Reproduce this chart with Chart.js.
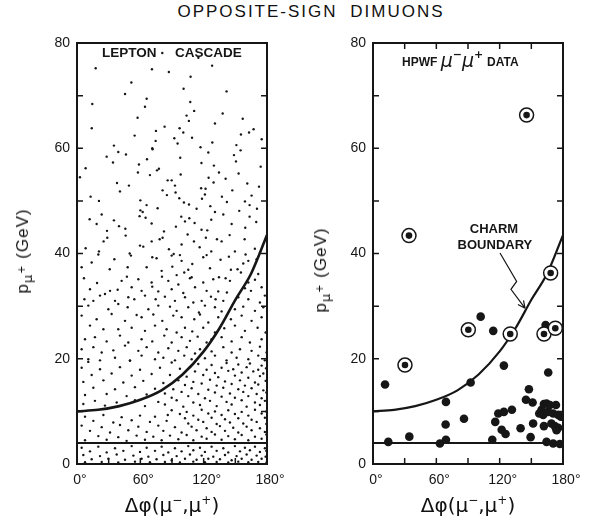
<!DOCTYPE html>
<html>
<head>
<meta charset="utf-8">
<script src="https://cdn.jsdelivr.net/npm/chart.js@4.4.0/dist/chart.umd.min.js"></script>
<style>
  body { margin: 0; background: #fff; }
  #wrap { position: relative; width: 589px; height: 520px; overflow: hidden; color: #111;
          font-family: 'Liberation Sans', Arial, sans-serif; }
  canvas { position: absolute; top: 0; }
  #left { left: 0; }
  #right { left: 296px; }
  .title { position: absolute; top: 2px; left: 311px; transform: translateX(-50%); white-space: nowrap;
           font-size: 17px; letter-spacing: 2px; word-spacing: 6px; }
  .ytitle { position: absolute; transform: translate(-50%, -50%) rotate(-90deg); white-space: nowrap;
            font-size: 17px; letter-spacing: 1px; }
  .ytitle sub { font-size: 13px; vertical-align: -4px; font-family: 'DejaVu Sans', sans-serif; }
  .ytitle sub sup { font-size: 10px; vertical-align: 7px; }
  .xtitle { position: absolute; top: 505px; transform: translate(-50%, -50%); white-space: nowrap;
            font-family: 'DejaVu Sans', sans-serif; font-size: 20px; }
  .xtitle sup { font-size: 12px; vertical-align: 8px; }
</style>
</head>
<body>
<div id="wrap">
  <div class="title">OPPOSITE-SIGN DIMUONS</div>
  <canvas id="left" width="294" height="520"></canvas>
  <canvas id="right" width="293" height="520"></canvas>
  <div class="ytitle" style="left:24px; top:251px;">p<sub>μ<sup>+</sup></sub> (GeV)</div>
  <div class="ytitle" style="left:322px; top:270px;">p<sub>μ<sup>+</sup></sub> (GeV)</div>
  <div class="xtitle" style="left:172px;">Δφ(μ<sup>−</sup>,μ<sup>+</sup>)</div>
  <div class="xtitle" style="left:468px;">Δφ(μ<sup>−</sup>,μ<sup>+</sup>)</div>
</div>
<script>
// tick labels
const phiLabels = [0, 60, 120, 180];
const pLabels = [0, 20, 40, 60, 80];

// charm boundary curve [dphi deg, p GeV]
const charmBoundary = [[0, 10], [20, 10.3], [40, 11], [60, 12.2], [80, 14], [100, 17],
  [120, 21.4], [135, 25.8], [150, 31.2], [165, 36.2], [180, 43.5]];
// low momentum cut
const pCut = [[0, 4], [180, 4]];

// lepton cascade Monte Carlo, p > 40
const cascadeHigh = [[80.8,78.1],[115,77.2],[128,75.7],[17.7,75.2],[71,75],[87,74.5],[107.6,73.6],[51.5,72.5],
  [101,71.3],[45.5,70.3],[141.7,70.8],[14.5,68.4],[66,69.4],[107.3,68.8],[64.4,67.9],[111,67.1],[138,66.6],
  [103.8,66.2],[57.4,65.8],[106,65.2],[157,65.6],[130.7,64.7],[14,63.8],[83,64.1],[74.8,63.3],[97.2,63.8],
  [167.3,63.6],[100.7,63],[163,63],[54.6,62.4],[92.2,61.9],[109,62],[155.3,62.6],[175,61.7],[74.5,61.4],
  [95.3,60.9],[128.2,61.1],[35,60.5],[71.3,60],[117,60.2],[151,60.6],
  [39.1,59.3],[46.4,58.8],[71.6,59.8],[124.4,59.2],[148.7,58.7],[155,59.6],[28.1,58.4],[66.3,57.9],[97.8,58.2],
  [34.1,57.3],[150.6,57.5],[58.7,56.9],[117.9,57.2],[8.2,56.2],[77.6,56.1],[75.8,55.8],[129.7,56.7],[174,56.5],
  [57.7,55.4],[98.2,55],[69.1,54.9],[134.5,55.4],[153.1,55.2],[2.8,54.5],[124.7,54.4],[140.8,54.2],[85.9,53.9],
  [89.7,53.9],[129.4,53.5],[37.9,53.4],[49.2,52.9],[92.8,52.9],[161.3,53.3],[117.6,52.4],[121.8,52.3],[172.4,52.7],
  [40.7,51.8],[81.1,52],[93.4,51.6],[147.1,52],[121.2,51.2],[85.2,51.1],[12.9,50.8],[137.3,50.8],[165.4,51],
  [96.9,50.5],[118.4,50.4],[20.8,50],[60,50.1],[142,49.8],[159.1,49.9],[101.3,49.7],[106.1,49.3],[65.9,49.2],
  [163.5,49.2],[126.3,49],[76.4,48.6],[113.3,48.5],[170.5,48.5],[60,48.2],[62.2,47.9],[130.7,47.9],[153.7,48.1],
  [23.4,47.4],[59.3,47.1],[138.6,47.4],[98.8,47],[65,46.8],[106.4,46.7],[163.5,47],[12,46.5],[127.2,46.4],
  [102.3,46.1],[35,46.3],[111.4,45.8],[146.5,45.6],[169.8,46],[18.6,45.6],[70.7,45.7],[39.8,45.2],[93.7,45.1],
  [45.8,44.7],[118,44.5],[123.4,44.4],[159.4,44.9],[28.4,44.3],[82.4,44.2],[104.8,43.6],[46.1,43.4],[144.6,43.5],
  [81.1,43],[28.7,43],[122.1,43],[78.3,42.7],[132.6,42.7],[158.8,42.7],[25.2,42.3],[70.7,42.3],[110.8,42.3],
  [137,42.3],[99.1,41.7],[59.7,41.5],[62.8,41.3],[116.2,41.2],[8.2,41],[87.1,40.8],[127.2,40.4],[20.8,40.4],
  [149.6,40.4],[49.9,40],[91.6,39.9],[168.5,40.9],[20.2,39.8],[97.5,39.7],[122.8,39.7],[159.7,39.8]];

// 20 < p < 40
const cascadeMid = [[13.9,38.3],[35.4,38.9],[51.1,39.6],[71.3,39.3],[75.4,39.1],[89.7,39.6],[99.1,38.6],[109.2,38],
  [119.6,39.3],[136,38.8],[143.9,39.4],[157.5,38.1],[162.3,38.6],[170.2,38.9],
  [4.4,37.4],[31,37],[48,37.4],[66,37.4],[80.2,36.7],[90.3,37.5],[101.6,36.4],[105.4,36.9],[108.6,35.5],[126,37.2],
  [145.8,36.9],[152.1,37],[155.3,36.4],[171.7,36.1],
  [6.6,35.3],[19,34.4],[42.3,34.8],[47.3,35.6],[58.1,35.1],[70.7,34.5],[80.5,35.6],[86.5,34.8],[94.4,35.9],[107,35.3],
  [119.6,34.5],[129.1,35.1],[134.5,35.5],[140.8,35.3],[144.9,34.8],[162.3,34.5],[168.6,35],
  [12.3,33.2],[26.5,32.3],[31.3,32.9],[38.5,33.1],[51.8,33.6],[61.2,32.9],[71.3,33.7],[77,32.8],[89.7,33.2],[96,34.1],
  [100.7,32.5],[111.8,33.6],[122.8,32.9],[133.8,32.8],[142,32.6],[159.1,33.4],[164.8,32.9],[174.9,33.6],
  [7,31.3],[15.5,31],[21.8,32],[36,31],[48.6,31.7],[54.3,31.3],[64.4,32],[74.5,31.3],[83.3,31.8],[92.8,31],[102.3,31.7],
  [110.2,30.7],[118.1,31],[126.9,31.8],[131.3,31.3],[138.6,31],[152.8,31.7],[162.3,31.3],[173.3,30.7],[178,32],
  [10.7,30.1],[29.7,29.4],[39.1,30.4],[48,29.8],[56.5,28.3],[67.6,29.4],[77,30.1],[88.1,29.9],[94.4,29.1],[105.4,29.8],
  [115.5,28.8],[121.2,30.1],[130.7,29.8],[137,29],[149.6,29.4],[157.5,29.9],[168.6,29.1],[176.5,29.8],
  [4.4,28.2],[18.6,27.5],[32.8,28.5],[45.5,27.2],[61.2,27.9],[72.3,28.4],[80.8,27.2],[91.2,28.2],[99.1,27.9],[111.1,27.5],
  [116.5,28.4],[124.4,26.9],[133.8,27.9],[145.8,27.5],[156,28.2],[165.4,27.2],[174.9,27.9],
  [12.3,26.3],[25,25.6],[39.1,25.6],[51.8,25.9],[64.4,25.3],[73.9,26.3],[84.9,25.6],[94.4,25],[102.3,25.9],[109.2,25.2],
  [119.6,25.9],[130.7,25],[139.5,25.8],[149.6,26.3],[159.1,25.3],[171.1,25.9],[178.7,25],
  [7.6,23.7],[17,24.1],[28.1,23.3],[40.7,24.4],[48.6,23.1],[61.2,23.7],[71.3,23.3],[82.7,24.4],[89.7,23.1],[99.1,24.1],
  [107,23.4],[114.3,24.2],[122.8,23.1],[127.5,23.7],[137,24.1],[146.5,23.3],[156,24.1],[163.8,23.1],[174.9,23.7],
  [4.4,21.8],[15.5,22.2],[23.4,21.2],[34.4,21.6],[45.5,22.5],[58.1,21.5],[66,22.2],[77,21.2],[86.5,22],[96,21.5],
  [103.9,22.2],[111.8,21],[116.5,21.8],[127.5,21.4],[138.6,22.2],[146.5,21.2],[154.4,21.8],[165.4,21.5],[173.3,22.3],[179.6,21.2],
  [10.7,19.9],[21.8,19.7],[36,20.2],[50.2,19.7],[61.2,20.6],[73.9,19.9],[81.8,20.2],[92.8,19.7],[101.6,20.6],[108.6,19.9],
  [121.2,20.1],[130.7,20.6],[141.7,19.7],[151.2,20.2],[162.3,19.9],[171.7,20.6],[178,19.7]];

// p < 20
const cascadeLow = [[10.7,19.4],[50.2,19.6],[89.7,19.3],[114.9,19.0],[127.5,18.8],[141.7,19.2],[152.8,18.9],[163.8,19.1],[174.9,18.7],
  [4.4,18.3],[21.8,18.0],[40.7,18.4],[59.7,17.9],[78.6,18.3],[97.5,18.1],[107,18.4],[122.8,17.9],[137,18.3],[148,18.0],
  [160.7,18.4],[171.7,17.9],[179.2,18.2],
  [111.8,17.6],[130.7,17.3],[143.3,17.7],[156,17.4],[167,17.6],[176.5,17.2],
  [13.9,16.9],[32.8,17.2],[51.8,16.8],[70.7,17.1],[88.1,16.9],
  [103.9,16.6],[119.6,16.9],[133.8,16.5],[149.6,16.8],[162.3,16.4],[173.3,16.7],
  [96,15.9],[110.2,15.6],[126,16.0],[140.2,15.7],[154.4,15.9],[168.6,15.5],[178.7,15.8],
  [6,15.6],[25,15.9],[43.9,15.5],[62.8,15.8],[81.8,15.4],
  [102.3,15.0],[118.1,15.3],[132.3,14.9],[146.5,15.2],[159.1,14.9],[171.7,15.1],
  [15.5,14.5],[36,14.2],[54.9,14.6],[73.9,14.3],
  [91.2,14.2],[108.6,14.4],[124.4,14.1],[138.6,14.5],[152.8,14.2],[165.4,14.4],[176.5,14.0],
  [83.3,13.4],[99.1,13.7],[114.9,13.3],[130.7,13.6],[144.9,13.4],[157.5,13.7],[170.2,13.3],[179.4,13.6],
  [7.6,13.1],[28.1,13.3],[47,12.9],[66,13.2],
  [89.7,12.6],[105.4,12.9],[121.2,12.5],[137,12.8],[149.6,12.6],[162.3,12.9],[174.9,12.5],
  [77,11.8],[94.4,12.1],[110.2,11.7],[126,12.0],[141.7,11.8],[156,12.1],[168.6,11.7],[178,12.0],
  [17,12.0],[37.6,11.7],[54.9,12.1],
  [64.4,11.0],[83.3,11.3],[100.7,10.9],[116.5,11.2],[132.3,11.0],[146.5,11.3],[160.7,10.9],[173.3,11.2],
  [6,11.4],[26.5,11.1],
  [89.7,10.2],[103.9,9.9],[118.1,10.3],[130.7,10.0],[143.3,10.2],[156,9.9],[168.6,10.3],[179.4,10.0],
  [97.5,9.5],[110.2,9.2],[124.4,9.6],[137,9.3],[149.6,9.5],[162.3,9.2],[174.9,9.6],
  [7.6,9.0],[25,9.3],[42.3,8.9],[59.7,9.2],[73.9,9.0],[86,9.3],
  [102.3,8.7],[114.9,8.4],[127.5,8.8],[140.2,8.5],[152.8,8.7],[165.4,8.4],[178,8.8],
  [15.5,8.2],[34.4,7.9],[51.8,8.3],[69.1,8.0],[84.9,8.2],
  [105.4,7.7],[119.6,8.0],[132.3,7.6],[144.9,7.9],[157.5,7.7],[170.2,8.0],[179.4,7.6],
  [4.4,7.3],[23.4,7.0],[40.7,7.4],[58.1,7.1],[77,7.3],[92.8,7.0],
  [108.6,7.1],[122.8,6.8],[135.4,7.2],[148,6.9],[160.7,7.1],[173.3,6.8],
  [12.3,6.3],[31.3,6.0],[48.6,6.4],[66,6.1],[81.8,6.3],[99.1,6.0],[113.3,6.4],[127.5,6.1],[140.2,6.3],[152.8,6.0],[165.4,6.4],[178,6.1],
  [103.9,5.5],[118.1,5.2],[130.7,5.6],[143.3,5.3],[156,5.5],[168.6,5.2],[179.4,5.6],
  [20.2,5.3],[39.1,5.1],[56.5,5.4],[72.3,5.2],[88.1,5.4],
  [96,4.7],[110.2,4.5],[122.8,4.8],[137,4.6],[149.6,4.7],[162.3,4.5],[174.9,4.8],
  [7.6,4.5],[28.1,4.6],[47,4.4],[64.4,4.6],[80.2,4.5],
  [4.4,3.1],[20.2,3.3],[36,3.0],[51.8,3.4],[66,3.1],[80.2,3.3],[92.8,3.0],[105.4,3.4],[116.5,3.1],[127.5,3.3],[138.6,3.0],
  [149.6,3.4],[159.1,3.1],[168.6,3.3],[178,3.0],
  [12.3,2.4],[28.1,2.2],[43.9,2.5],[59.7,2.3],[73.9,2.5],[86.5,2.2],[99.1,2.4],[110.2,2.6],[121.2,2.3],[132.3,2.5],[143.3,2.2],
  [154.4,2.4],[163.8,2.6],[173.3,2.3],[179.3,2.5],
  [6,1.7],[21.8,1.5],[37.6,1.8],[53.4,1.6],[67.6,1.4],[81.8,1.7],[94.4,1.5],[107,1.8],[118.1,1.6],[129.1,1.4],[140.2,1.7],
  [151.2,1.5],[160.7,1.8],[170.2,1.6],[178.7,1.4],
  [13.9,0.9],[29.7,1.0],[45.5,0.8],[61.2,1.0],[75.4,0.9],[89.7,0.7],[102.3,1.0],[113.3,0.8],[124.4,1.0],[135.4,0.9],
  [146.5,0.7],[156,1.0],[165.4,0.8],[174.9,1.0],
  [7.6,0.35],[23.4,0.4],[39.1,0.3],[54.9,0.45],[69.1,0.35],[83.3,0.4],[97.5,0.3],[110.2,0.45],[121.2,0.35],[132.3,0.4],
  [143.3,0.3],[152.8,0.45],[162.3,0.35],[171.7,0.4],[179.6,0.3]];

// HPWF events
const dimuonEvents = [[11.4,15.1],[14.5,4.2],[34.4,5.2],[69.1,11.8],[68.8,7.5],[63.4,3.9],[69.1,4.6],[86.2,8.6],
  [92.5,15.5],[102,28],[113.9,25.3],[113,4.6],[115.8,8],[118.7,9.6],[124,9.9],[124,18.7],[131.6,10.3],[121.9,6.5],
  [125.6,5.7],[139.8,6.8],[144.9,12.2],[147.7,14.2],[151.2,11.7],[149.3,5.1],[151.7,7.7],[166,17.4],[163.5,26.4],
  [157.5,9.6],[159.7,10.3],[161.9,11.4],[164.4,11.5],[167.6,11.2],[173.3,11.2],[161.2,9.3],[165.9,9.9],[170.7,9.6],
  [175.5,9.3],[178,9],[161.9,7.2],[169,7.7],[172.2,7.2],[175.5,6.9],[173.9,6.4],[164.4,4.2],[170.7,3.9],[177,3.8]];
// circled events
const circledEvents = [[30.3,18.8],[90.3,25.5],[130,24.7],[162,24.7],[172.7,25.8],[168.3,36.3],[34.1,43.4],[145.5,66.3]];

const ink = '#161616';
const pts = arr => arr.map(([x, y]) => ({ x, y }));

const frameTicks = {
  id: 'frameTicks',
  afterDraw(chart, args, opts) {
    const { ctx, chartArea: a, scales: { x, y } } = chart;
    ctx.save();
    ctx.strokeStyle = ink;
    ctx.lineWidth = 1.5;
    ctx.beginPath();
    x.ticks.forEach(t => {
      const px = x.getPixelForValue(t.value);
      ctx.moveTo(px, a.bottom); ctx.lineTo(px, a.bottom - 6);
      if (opts.top) { ctx.moveTo(px, a.top); ctx.lineTo(px, a.top + 6); }
    });
    y.ticks.forEach(t => {
      const py = y.getPixelForValue(t.value);
      ctx.moveTo(a.left, py); ctx.lineTo(a.left + 6, py);
      ctx.moveTo(a.right, py); ctx.lineTo(a.right - 6, py);
    });
    ctx.stroke();
    ctx.lineWidth = 2;
    ctx.strokeRect(a.left, a.top, a.width, a.height);
    ctx.restore();
  }
};

function options(rightPad, showTop) {
  return {
    responsive: false,
    animation: false,
    layout: { padding: { left: 37, top: 43, right: rightPad, bottom: 26 } },
    plugins: { legend: { display: false }, tooltip: { enabled: false }, frameTicks: { top: showTop } },
    scales: {
      x: {
        type: 'linear', min: 0, max: 180,
        afterFit: s => { s.height = 30; },
        grid: { display: false, drawTicks: false }, border: { display: false },
        ticks: { stepSize: 30, padding: 8, labelOffset: 3, maxRotation: 0, autoSkip: false, color: ink,
          font: { family: 'Liberation Sans', size: 14 },
          callback: v => phiLabels.includes(v) ? v + '°' : '' }
      },
      y: {
        type: 'linear', min: 0, max: 80,
        afterFit: s => { s.width = 40; },
        grid: { display: false, drawTicks: false }, border: { display: false },
        ticks: { stepSize: 10, padding: 7, autoSkip: false, color: ink,
          font: { family: 'Liberation Sans', size: 14 },
          callback: v => pLabels.includes(v) ? String(v) : '' }
      }
    }
  };
}

const lineSet = (data, width) => ({
  data: pts(data), showLine: true, pointRadius: 0, borderColor: ink, borderWidth: width,
  cubicInterpolationMode: 'monotone', fill: false
});

const leftLabel = {
  id: 'leftLabel',
  afterDraw(chart) {
    const { ctx, chartArea: a } = chart;
    ctx.save();
    ctx.fillStyle = ink;
    ctx.font = 'bold 13.5px "Liberation Sans"';
    ctx.fillText('LEPTON', a.left + 25, a.top + 13.5);
    ctx.fillText('CASCADE', a.left + 98, a.top + 13.5);
    ctx.restore();
  }
};

new Chart(document.getElementById('left'), {
  type: 'scatter',
  data: {
    datasets: [
      lineSet(charmBoundary, 2.6),
      lineSet(pCut, 2),
      { data: pts(cascadeHigh.concat(cascadeMid, cascadeLow)), pointRadius: 1.2, pointBorderWidth: 0,
        pointBackgroundColor: ink }
    ]
  },
  options: options(27, false),
  plugins: [frameTicks, leftLabel]
});

const rightLabel = {
  id: 'rightLabel',
  afterDraw(chart) {
    const { ctx, chartArea: a, scales: { x, y } } = chart;
    ctx.save();
    ctx.fillStyle = ink;
    ctx.strokeStyle = ink;
    let cx = a.left + 29;
    const base = a.top + 23;
    const part = (text, font, dy) => {
      ctx.font = font;
      ctx.fillText(text, cx, base + dy);
      cx += ctx.measureText(text).width;
    };
    part('HPWF ', 'bold 12px "Liberation Sans"', 0);
    part('μ', 'oblique 19px "DejaVu Sans"', 1);
    part('−', 'bold 11px "DejaVu Sans"', -8);
    part('μ', 'oblique 19px "DejaVu Sans"', 1);
    part('+ ', 'bold 11px "DejaVu Sans"', -8);
    part('DATA', 'bold 12px "Liberation Sans"', 0);

    // charm boundary annotation
    ctx.font = 'bold 13px "Liberation Sans"';
    ctx.textAlign = 'center';
    ctx.textBaseline = 'middle';
    ctx.fillText('CHARM', x.getPixelForValue(114.6), y.getPixelForValue(44.5));
    ctx.fillText('BOUNDARY', x.getPixelForValue(115.5), y.getPixelForValue(41.6));

    const path = [[120.3, 40.1], [136.1, 34.7], [130.7, 33.2], [144, 29.6]]
      .map(([u, v]) => [x.getPixelForValue(u), y.getPixelForValue(v)]);
    ctx.lineWidth = 1.2;
    ctx.beginPath();
    path.forEach(([px, py], i) => i ? ctx.lineTo(px, py) : ctx.moveTo(px, py));
    const [p3, p4] = [path[2], path[3]];
    const ang = Math.atan2(p4[1] - p3[1], p4[0] - p3[0]);
    [-0.45, 0.45].forEach(d => {
      ctx.moveTo(p4[0], p4[1]);
      ctx.lineTo(p4[0] - 8 * Math.cos(ang + d), p4[1] - 8 * Math.sin(ang + d));
    });
    ctx.stroke();
    ctx.restore();
  }
};

new Chart(document.getElementById('right'), {
  type: 'scatter',
  data: {
    datasets: [
      { data: pts(circledEvents), pointRadius: 3.3, pointBorderWidth: 0, pointBackgroundColor: ink },
      { data: pts(circledEvents), pointRadius: 7, pointBorderWidth: 1.5, pointBorderColor: ink,
        pointBackgroundColor: '#fff' },
      { data: pts(dimuonEvents), pointRadius: 4.3, pointBorderWidth: 0, pointBackgroundColor: ink },
      lineSet(charmBoundary, 2.2),
      lineSet(pCut, 2)
    ]
  },
  options: options(26, true),
  plugins: [frameTicks, rightLabel]
});
</script>
</body>
</html>
